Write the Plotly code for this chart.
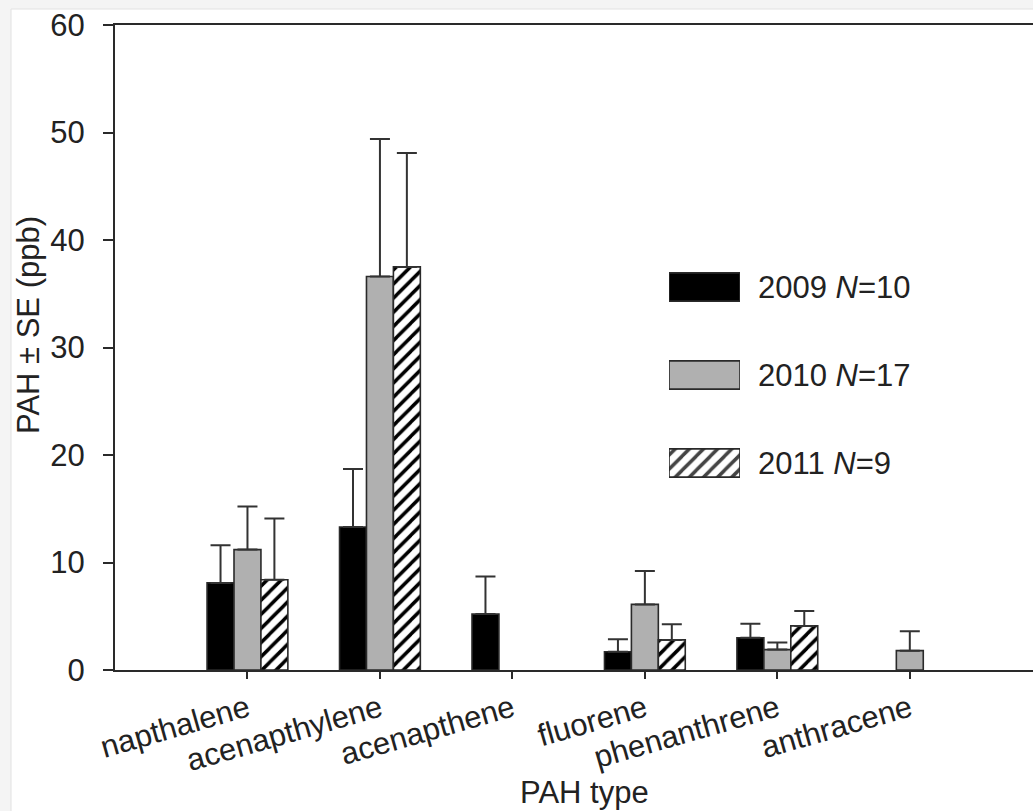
import plotly.graph_objects as go

# ---- data ----
categories = ["napthalene", "acenapthylene", "acenapthene", "fluorene", "phenanthrene", "anthracene"]
series_names = ["2009 <i>N</i>=10", "2010 <i>N</i>=17", "2011 <i>N</i>=9"]
mean_2009 = [8.1, 13.3, 5.2, 1.7, 3.0, None]
se_2009 = [3.5, 5.4, 3.5, 1.15, 1.3, None]
mean_2010 = [11.2, 36.6, None, 6.1, 1.9, 1.8]
se_2010 = [4.0, 12.8, None, 3.1, 0.65, 1.8]
mean_2011 = [8.4, 37.5, None, 2.8, 4.1, None]
se_2011 = [5.7, 10.6, None, 1.45, 1.4, None]

means = [mean_2009, mean_2010, mean_2011]
ses = [se_2009, se_2010, se_2011]
fill_colors = ["#000000", "#b0b0b0", "#ffffff"]
pattern_shapes = ["", "", "/"]

FONT = "Liberation Sans, Arial, sans-serif"
TXT = "#222222"
LINE = "#2a2a2a"
FS = 31

# plot area geometry in pixels
W, H = 1033, 811
L, R, T, B = 115, 1033, 25, 670
pw, ph = R - L, B - T

def px_x(x):
    return (x - L) / pw

def px_y(y):
    return (B - y) / ph

positions = list(range(1, len(categories) + 1))

fig = go.Figure()
for name, m, s, col, pat in zip(series_names, means, ses, fill_colors, pattern_shapes):
    fig.add_trace(go.Bar(
        x=positions, y=m, name=name, showlegend=False,
        marker=dict(color=col, line=dict(color=LINE, width=1.6),
                    pattern=dict(shape=pat, fgcolor="#000000", bgcolor=col, fgopacity=1,
                                 size=10, solidity=0.35)),
        error_y=dict(type="data", symmetric=False, array=s,
                     arrayminus=[0 if v is not None else None for v in s],
                     color="#333333", thickness=2, width=10),
    ))

# legend drawn as bars on a small secondary axis so the swatches are large
fig.add_trace(go.Bar(
    x=[1, 1, 1], y=[0, 1, 2], orientation="h", width=0.32,
    xaxis="x2", yaxis="y2", showlegend=False, hoverinfo="skip",
    marker=dict(color=fill_colors, line=dict(color=LINE, width=1.6),
                pattern=dict(shape=pattern_shapes, fgcolor="#000000", bgcolor=fill_colors,
                             fgopacity=1, size=10, solidity=0.35)),
))

annotations = []
leg_y = [287, 375, 463]
for name, yy in zip(series_names, leg_y):
    annotations.append(dict(text=name, x=px_x(756), y=px_y(yy), xref="paper", yref="paper",
                            xanchor="left", yanchor="middle", showarrow=False,
                            font=dict(family=FONT, size=FS, color=TXT)))
annotations.append(dict(text="PAH type", x=px_x(584), y=px_y(792), xref="paper", yref="paper",
                        xanchor="center", yanchor="middle", showarrow=False,
                        font=dict(family=FONT, size=FS, color=TXT)))
annotations.append(dict(text="PAH ± SE (ppb)", x=px_x(28), y=px_y(325), xref="paper", yref="paper",
                        xanchor="center", yanchor="middle", textangle=-90, showarrow=False,
                        font=dict(family=FONT, size=FS, color=TXT)))

fig.update_layout(
    width=W, height=H,
    margin=dict(l=L, r=W - R, t=T, b=H - B),
    paper_bgcolor="#f4f4f4", plot_bgcolor="#ffffff",
    barmode="group", bargap=0.39, bargroupgap=0,
    font=dict(family=FONT, size=FS, color=TXT),
    annotations=annotations,
    shapes=[dict(type="rect", xref="paper", yref="paper", layer="below",
                 x0=px_x(11), x1=px_x(1040), y0=px_y(820), y1=px_y(9),
                 fillcolor="#ffffff", line=dict(color="#e2e2e2", width=1))],
    xaxis=dict(range=[0, 6.93], tickvals=positions, ticktext=categories, tickangle=-16,
               ticks="outside", ticklen=7, tickwidth=2, tickcolor=LINE,
               showline=True, linecolor=LINE, linewidth=2, mirror=True,
               showgrid=False, zeroline=False, tickfont=dict(size=FS)),
    yaxis=dict(range=[0, 60], tickvals=[0, 10, 20, 30, 40, 50, 60],
               ticks="outside", ticklen=10, tickwidth=2, tickcolor=LINE,
               showline=True, linecolor=LINE, linewidth=2, mirror=False,
               showgrid=False, zeroline=False, ticklabelstandoff=12, tickfont=dict(size=FS)),
    xaxis2=dict(domain=[px_x(669), px_x(740)], range=[0, 1], anchor="y2",
                visible=False, fixedrange=True),
    yaxis2=dict(domain=[px_y(507), px_y(243)], range=[2.5, -0.5], anchor="x2",
                visible=False, fixedrange=True),
)

fig.write_html("out.html", config={"displayModeBar": False},
               post_script="document.body.style.margin='0';document.body.style.overflow='hidden';")
